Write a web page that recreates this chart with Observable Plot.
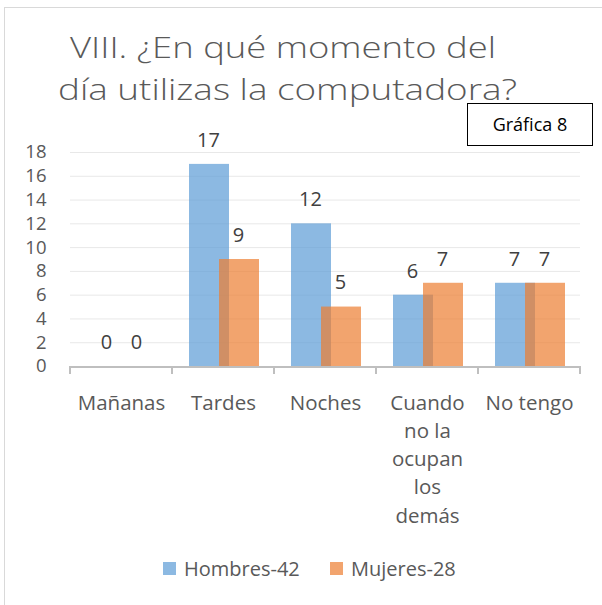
<!DOCTYPE html>
<html><head><meta charset="utf-8">
<script src="https://cdn.jsdelivr.net/npm/d3@7"></script>
<script src="https://cdn.jsdelivr.net/npm/@observablehq/plot@0.6"></script>
<style>html,body{margin:0;padding:0;background:#fff} svg{display:block}</style>
</head><body><div id="chart"></div>
<script>
const categories = ["Mañanas", "Tardes", "Noches", "Cuando\nno la\nocupan\nlos\ndemás", "No tengo"];
const hombres = [0, 17, 12, 6, 7];
const mujeres = [0, 9, 5, 7, 7];
const series = ["Hombres-42", "Mujeres-28"];
const colors = ["#5B9BD5", "#ED7D31"];
const yTicks = [0, 2, 4, 6, 8, 10, 12, 14, 16, 18];
const titleLines = ["VIII. ¿En qué momento del", "día utilizas la computadora?"];
const badge = "Gráfica 8";

const hData = categories.map((c, i) => ({cat: c, serie: series[0], value: hombres[i]}));
const mData = categories.map((c, i) => ({cat: c, serie: series[1], value: mujeres[i]}));

const FONT = "'Open Sans', Lato, sans-serif";
const GRAY = "#595959";

const plot = Plot.plot({
  width: 602,
  height: 605,
  marginLeft: 70,
  marginRight: 22,
  marginTop: 152,
  marginBottom: 239,
  style: {fontFamily: FONT, background: "transparent", overflow: "visible"},
  x: {domain: categories, padding: 0, axis: null},
  y: {domain: [0, 18], axis: null},
  color: {domain: series, range: colors},
  marks: [
    Plot.ruleY(yTicks.filter(d => d > 0), {stroke: "#e8e8e8", strokeWidth: 1}),
    Plot.text(yTicks, {y: d => d, text: d => String(d), frameAnchor: "left", dx: -24, textAnchor: "end", fontSize: 18.5, fill: GRAY}),
    Plot.barY(hData, {x: "cat", y: "value", fill: "serie", fillOpacity: 0.7, insetLeft: 17, insetRight: 45}),
    Plot.barY(mData, {x: "cat", y: "value", fill: "serie", fillOpacity: 0.7, insetLeft: 47, insetRight: 15}),
    Plot.text(hData, {x: "cat", y: "value", text: d => String(d.value), dx: -15, dy: -24, fontSize: 20, fill: "#404040"}),
    Plot.text(mData, {x: "cat", y: "value", text: d => String(d.value), dx: 15, dy: -24, fontSize: 20, fill: "#404040"}),
    Plot.text(categories, {x: d => d, text: d => d, frameAnchor: "bottom", lineAnchor: "top", dy: 23, lineHeight: 1.38, fontSize: 20.5, fill: GRAY})
  ]
});

document.getElementById("chart").appendChild(plot);

const svg = d3.select(plot);
const xs = plot.scale("x");
const ys = plot.scale("y");
const [r0, r1] = xs.range;
const n = categories.length;
const y0 = ys.apply(0);

// chart border
svg.insert("rect", ":first-child")
  .attr("x", 4.5).attr("y", 7.5).attr("width", 620).attr("height", 620)
  .attr("fill", "none").attr("stroke", "#d9d9d9").attr("stroke-width", 1);

// category axis line and ticks between categories
const ax = svg.append("g").attr("stroke", "#bfbfbf").attr("stroke-width", 2);
ax.append("line").attr("x1", r0).attr("x2", r1).attr("y1", y0 + 1).attr("y2", y0 + 1);
d3.range(n + 1).forEach(i => {
  const x = r0 + i * (r1 - r0) / n;
  ax.append("line").attr("x1", x).attr("x2", x).attr("y1", y0).attr("y2", y0 + 8);
});

// title
const title = svg.append("g").attr("font-family", FONT).attr("font-weight", 300).attr("font-size", 30)
  .attr("fill", GRAY).attr("text-anchor", "start");
const titlePos = [{x: 70, y: 58, w: 426}, {x: 58, y: 100, w: 459}];
titleLines.forEach((t, i) => {
  title.append("text").attr("x", titlePos[i].x).attr("y", titlePos[i].y)
    .attr("textLength", titlePos[i].w).attr("lengthAdjust", "spacingAndGlyphs").text(t);
});

// badge
svg.append("rect").attr("x", 467.5).attr("y", 103.5).attr("width", 125).attr("height", 42)
  .attr("fill", "#fff").attr("stroke", "#000").attr("stroke-width", 1);
svg.append("text").attr("x", 530).attr("y", 131).attr("text-anchor", "middle")
  .attr("font-family", FONT).attr("font-size", 18).attr("fill", "#000").text(badge);

// legend
const leg = svg.append("g").attr("font-family", FONT).attr("font-size", 20).attr("fill", GRAY).attr("text-anchor", "start");
const legX = [163, 330];
series.forEach((s, i) => {
  leg.append("rect").attr("x", legX[i]).attr("y", 562).attr("width", 13).attr("height", 13)
    .attr("fill", colors[i]).attr("fill-opacity", 0.7);
  leg.append("text").attr("x", legX[i] + 21).attr("y", 576).text(s);
});
</script>
</body></html>
